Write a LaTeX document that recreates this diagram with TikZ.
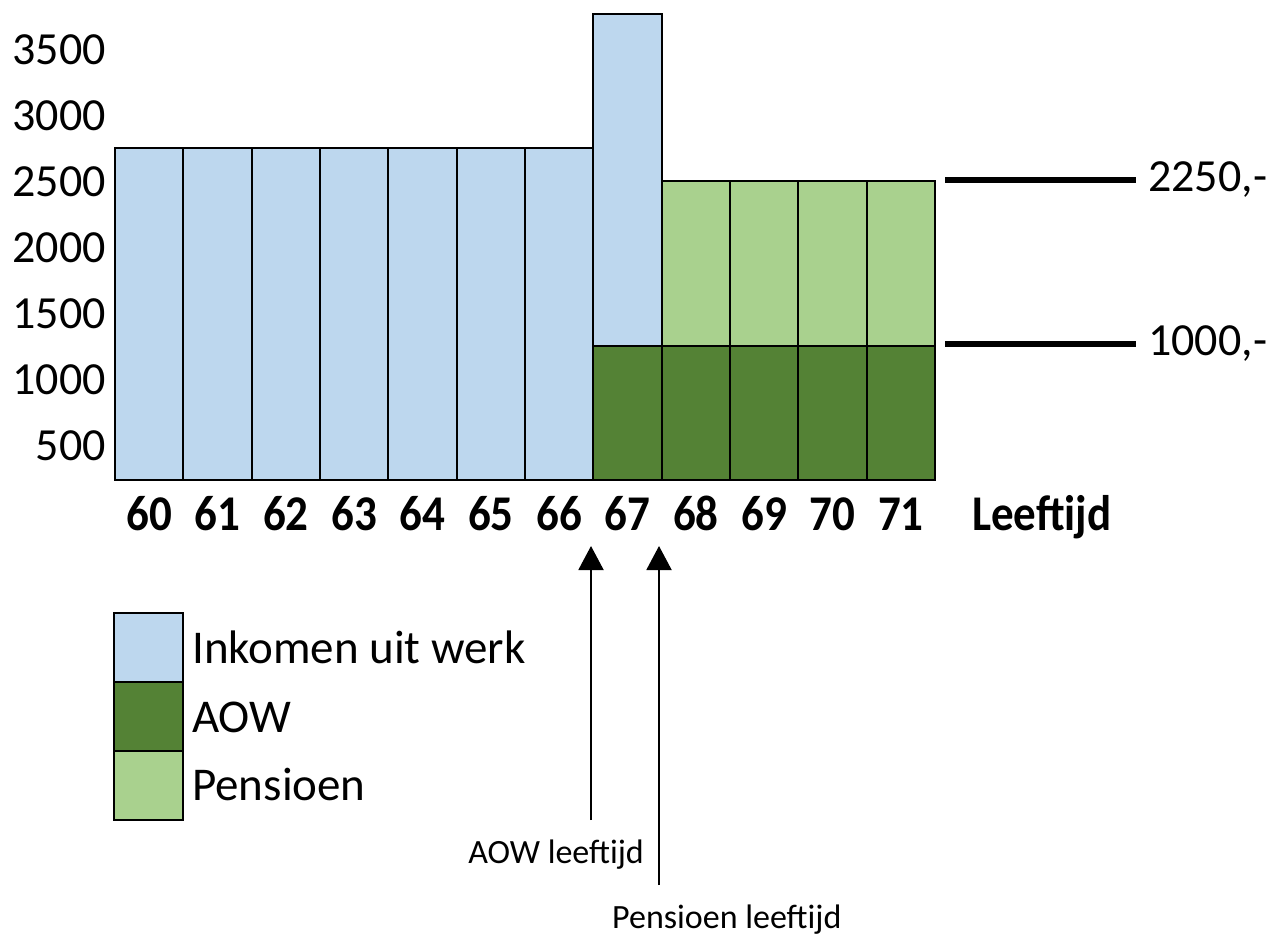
\documentclass[tikz,border=0pt]{standalone}
\usepackage{fontspec}
\setmainfont{Carlito}
\newfontfamily\agefont[FakeStretch=0.9]{Carlito}
\usetikzlibrary{positioning,arrows.meta}
\definecolor{werkblue}{HTML}{BDD7EE}
\definecolor{aowgreen}{HTML}{548235}
\definecolor{penslight}{HTML}{A9D18E}

\begin{document}
\begin{tikzpicture}[x=1pt, y=-1pt,
            >={Triangle[length=24pt, width=25pt]},
            bar/.style = {draw, line width=2.2pt, minimum width=68.33pt,
                    inner sep=0pt, outer sep=0pt, anchor=south west},
            key/.style = {bar, minimum width=69pt, minimum height=69pt},
            txt/.style = {inner sep=0pt, font=\fontsize{46}{50}\selectfont},
            keytxt/.style = {inner sep=0pt, anchor=base west, font=\fontsize{47}{50}\selectfont},
            age/.style = {inner sep=0pt, anchor=base,
                    font=\agefont\fontsize{50}{54}\selectfont\bfseries},
            note/.style = {inner sep=0pt, font=\fontsize{34}{40}\selectfont},
            level/.style = {line width=6pt},
        ]
        \useasboundingbox (0,0) rectangle (1274,935);

        % bars
        \foreach \a [count=\i from 0] in {60,...,66}
            \node[bar, fill=werkblue, minimum height=332pt] (w\a) at ({115+68.33*\i},480) {};

        \node[bar, fill=aowgreen, minimum height=134pt] (aow67) at ({115+68.33*7},480) {};
        \node[bar, fill=werkblue, minimum height=332pt, above=0pt of aow67] (w67) {};

        \foreach \a [count=\i from 8] in {68,...,71}
            {
                \node[bar, fill=aowgreen, minimum height=134pt] (aow\a) at ({115+68.33*\i},480) {};
                \node[bar, fill=penslight, minimum height=165pt, above=0pt of aow\a] (p\a) {};
            }

        % axes
        \foreach \v [count=\i from 0] in {3500,3000,...,500}
            \node[txt, anchor=base east] (y\v) at (106,{64+66*\i}) {\v};

        \foreach \a [count=\i from 0] in {60,...,71}
            \node[age] (age\a) at ({149.2+68.33*\i},530) {\a};
        \node[age, anchor=base west] (leeftijd) at (972,530) {Leeftijd};

        % levels
        \node[txt, anchor=west] (v2250) at (1148,180) {2250,-};
        \node[txt, anchor=west] (v1000) at (1148,344) {1000,-};
        \coordinate (s2250) at (945,180);
        \coordinate (s1000) at (945,344);
        \draw[level, shorten >=12pt] (s2250) -- (v2250.west);
        \draw[level, shorten >=12pt] (s1000) -- (v1000.west);

        % legend
        \node[key, fill=werkblue, anchor=north west] (kwerk) at (114,613) {};
        \node[key, fill=aowgreen, below=0pt of kwerk] (kaow) {};
        \node[key, fill=penslight, below=0pt of kaow] (kpens) {};
        \node[keytxt] (twerk) at (192,663) {Inkomen uit werk};
        \node[keytxt] (taow) at (192,732) {AOW};
        \node[keytxt] (tpens) at (192,800) {Pensioen};

        % ages
        \coordinate (aowfoot) at (591,820);
        \coordinate (aowtip) at (591,546);
        \coordinate (pensfoot) at (659,885);
        \coordinate (penstip) at (659,546);
        \node[note, anchor=base east] (aowtxt) at (644,863) {AOW leeftijd};
        \node[note, anchor=base west] (penstxt) at (612,928) {Pensioen leeftijd};
        \draw[->, line width=2pt] (aowfoot) -- (aowtip);
        \draw[->, line width=2pt] (pensfoot) -- (penstip);
    \end{tikzpicture}
\end{document}
